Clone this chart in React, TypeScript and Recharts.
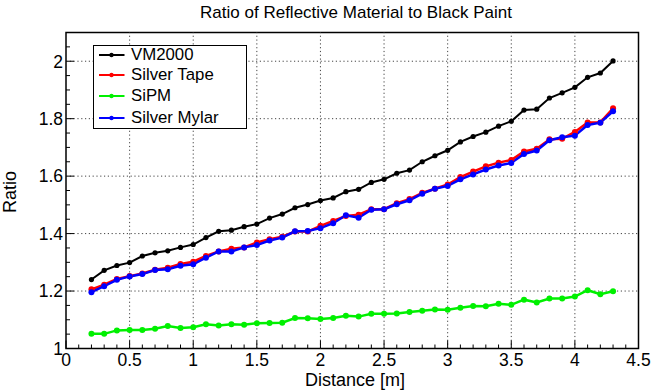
import React from 'react';
import { LineChart, Line, XAxis, YAxis, ReferenceLine, ReferenceArea, Legend } from 'recharts';

const distance = [0.2, 0.3, 0.4, 0.5, 0.6, 0.7, 0.8, 0.9, 1.0, 1.1, 1.2, 1.3, 1.4, 1.5, 1.6, 1.7, 1.8, 1.9, 2.0, 2.1, 2.2, 2.3, 2.4, 2.5, 2.6, 2.7, 2.8, 2.9, 3.0, 3.1, 3.2, 3.3, 3.4, 3.5, 3.6, 3.7, 3.8, 3.9, 4.0, 4.1, 4.2, 4.3];

const vm2000 = [1.240, 1.272, 1.289, 1.299, 1.322, 1.333, 1.340, 1.352, 1.362, 1.386, 1.408, 1.412, 1.424, 1.433, 1.454, 1.468, 1.490, 1.501, 1.515, 1.524, 1.546, 1.554, 1.578, 1.589, 1.610, 1.621, 1.650, 1.671, 1.690, 1.719, 1.738, 1.753, 1.774, 1.791, 1.830, 1.833, 1.872, 1.890, 1.909, 1.944, 1.959, 2.001];

const silverTape = [1.206, 1.222, 1.242, 1.252, 1.261, 1.274, 1.281, 1.294, 1.302, 1.322, 1.338, 1.347, 1.352, 1.369, 1.380, 1.389, 1.407, 1.407, 1.427, 1.444, 1.461, 1.466, 1.485, 1.485, 1.506, 1.520, 1.542, 1.556, 1.571, 1.597, 1.616, 1.634, 1.647, 1.656, 1.686, 1.695, 1.728, 1.730, 1.754, 1.787, 1.787, 1.836];

const sipm = [1.051, 1.051, 1.063, 1.064, 1.064, 1.069, 1.078, 1.071, 1.074, 1.084, 1.080, 1.084, 1.083, 1.088, 1.089, 1.090, 1.106, 1.105, 1.103, 1.106, 1.114, 1.111, 1.121, 1.121, 1.122, 1.127, 1.131, 1.136, 1.135, 1.142, 1.148, 1.147, 1.156, 1.152, 1.170, 1.160, 1.174, 1.174, 1.181, 1.203, 1.189, 1.199];

const silverMylar = [1.196, 1.217, 1.239, 1.251, 1.259, 1.273, 1.276, 1.288, 1.293, 1.316, 1.338, 1.338, 1.352, 1.360, 1.376, 1.386, 1.408, 1.409, 1.419, 1.436, 1.464, 1.455, 1.483, 1.485, 1.502, 1.516, 1.539, 1.556, 1.566, 1.589, 1.606, 1.623, 1.637, 1.646, 1.677, 1.689, 1.725, 1.735, 1.741, 1.778, 1.786, 1.826];

const xMajorTicks = [0, 0.5, 1, 1.5, 2, 2.5, 3, 3.5, 4, 4.5];
const xAllTicks = [0, 0.1, 0.2, 0.3, 0.4, 0.5, 0.6, 0.7, 0.8, 0.9, 1, 1.1, 1.2, 1.3, 1.4, 1.5, 1.6, 1.7, 1.8, 1.9, 2, 2.1, 2.2, 2.3, 2.4, 2.5, 2.6, 2.7, 2.8, 2.9, 3, 3.1, 3.2, 3.3, 3.4, 3.5, 3.6, 3.7, 3.8, 3.9, 4, 4.1, 4.2, 4.3, 4.4, 4.5];
const yMajorTicks = [1, 1.2, 1.4, 1.6, 1.8, 2];
const yAllTicks = [1, 1.05, 1.1, 1.15, 1.2, 1.25, 1.3, 1.35, 1.4, 1.45, 1.5, 1.55, 1.6, 1.65, 1.7, 1.75, 1.8, 1.85, 1.9, 1.95, 2, 2.05, 2.1];

const seriesNames = ['VM2000', 'Silver Tape', 'SiPM', 'Silver Mylar'];
const seriesColors = ['#000000', '#ff0000', '#00f000', '#0000ff'];
const seriesKeys = ['vm', 'tape', 'sipm', 'mylar'];

const data = distance.map((d, i) => ({
  d,
  vm: vm2000[i],
  tape: silverTape[i],
  sipm: sipm[i],
  mylar: silverMylar[i],
}));

const FONT = '"Liberation Sans", Arial, Helvetica, sans-serif';

const isMajor = (v: number, list: number[]) => list.some((t) => Math.abs(t - v) < 1e-6);

const XTick = (props: any) => {
  const { x, y, payload } = props;
  const v = payload.value;
  const major = isMajor(v, xMajorTicks);
  return (
    <g>
      <line x1={x} x2={x} y1={y} y2={y - (major ? 8 : 4)} stroke="#000" strokeWidth={1} />
      {major && (
        <text x={x} y={y + 17} textAnchor="middle" fontSize={17.5} fontFamily={FONT} fill="#000">
          {String(v)}
        </text>
      )}
    </g>
  );
};

const YTick = (props: any) => {
  const { x, y, payload } = props;
  const v = payload.value;
  const major = isMajor(v, yMajorTicks);
  return (
    <g>
      <line x1={x} x2={x + (major ? 8 : 4)} y1={y} y2={y} stroke="#000" strokeWidth={1} />
      {major && (
        <text x={x - 3} y={y + 6.3} textAnchor="end" fontSize={17.5} fontFamily={FONT} fill="#000">
          {String(v)}
        </text>
      )}
    </g>
  );
};

const LegendBox = () => (
  <div
    style={{
      width: 154,
      height: 84,
      border: '1.5px solid #000',
      boxSizing: 'border-box',
      background: '#fff',
      fontFamily: FONT,
      fontSize: 16.8,
      position: 'relative',
      color: '#000',
    }}
  >
    {seriesNames.map((name, i) => (
      <div
        key={name}
        style={{
          position: 'absolute',
          left: 0,
          top: [8.5, 28.5, 50.2, 71.8][i] - 10,
          height: 20,
          display: 'flex',
          alignItems: 'center',
          whiteSpace: 'nowrap',
        }}
      >
        <svg width={36} height={20} style={{ display: 'block' }}>
          <line x1={5} x2={30.5} y1={10} y2={10} stroke={seriesColors[i]} strokeWidth={2} />
          <circle cx={17.5} cy={10} r={2.2} fill={seriesColors[i]} />
        </svg>
        <span style={{ marginLeft: 1, lineHeight: '20px' }}>{name}</span>
      </div>
    ))}
  </div>
);

export default function App() {
  return (
    <div style={{ position: 'absolute', left: 0, top: 0, width: 663, height: 390, background: '#fff' }}>
      <div
        style={{
          position: 'absolute',
          left: 0,
          width: 712,
          top: 3.5,
          textAlign: 'center',
          fontFamily: FONT,
          fontSize: 17,
          lineHeight: '17px',
          color: '#000',
          whiteSpace: 'nowrap',
        }}
      >
        Ratio of Reflective Material to Black Paint
      </div>
      <LineChart
        width={663}
        height={390}
        data={data}
        margin={{ top: 32.5, right: 24.5, left: 0, bottom: 0 }}
        style={{ position: 'absolute', left: 0, top: 0 }}
      >
        <XAxis
          type="number"
          dataKey="d"
          domain={[0, 4.5]}
          ticks={xAllTicks}
          interval={0}
          tickSize={0}
          tickMargin={0}
          tickLine={false}
          axisLine={false}
          height={41.5}
          tick={<XTick />}
          label={{
            content: () => (
              <text x={355} y={386} textAnchor="middle" fontSize={18} fontFamily={FONT} fill="#000">
                Distance [m]
              </text>
            ),
          }}
        />
        <YAxis
          type="number"
          domain={[1, 2.1]}
          ticks={yAllTicks}
          interval={0}
          tickSize={0}
          tickMargin={0}
          tickLine={false}
          axisLine={false}
          width={66}
          tick={<YTick />}
          allowDataOverflow
          label={{
            content: () => (
              <text x={16} y={192} transform="rotate(-90 16 192)" textAnchor="middle" fontSize={18} fontFamily={FONT} fill="#000">
                Ratio
              </text>
            ),
          }}
        />
        {xMajorTicks.slice(1, -1).map((t) => (
          <ReferenceLine key={'gx' + t} x={t} stroke="#444" strokeWidth={1} strokeDasharray="1.2 2.6" />
        ))}
        {yMajorTicks.slice(1).map((t) => (
          <ReferenceLine key={'gy' + t} y={t} stroke="#444" strokeWidth={1} strokeDasharray="1.2 2.6" />
        ))}
        <ReferenceArea x1={0} x2={4.5} y1={1} y2={2.1} fill="none" stroke="#000" strokeWidth={1.5} />
        {seriesKeys.map((k, i) => (
          <Line
            key={k}
            type="linear"
            dataKey={k}
            name={seriesNames[i]}
            stroke={seriesColors[i]}
            strokeWidth={i === 0 ? 2 : 2.5}
            dot={{ r: i === 0 ? 2.6 : 3, fill: seriesColors[i], stroke: 'none' }}
            activeDot={false}
            isAnimationActive={false}
          />
        ))}
        <Legend
          layout="vertical"
          align="center"
          verticalAlign="middle"
          content={() => <LegendBox />}
          wrapperStyle={{ position: 'absolute', left: 93, top: 45, width: 154, height: 84 }}
        />
      </LineChart>
    </div>
  );
}
